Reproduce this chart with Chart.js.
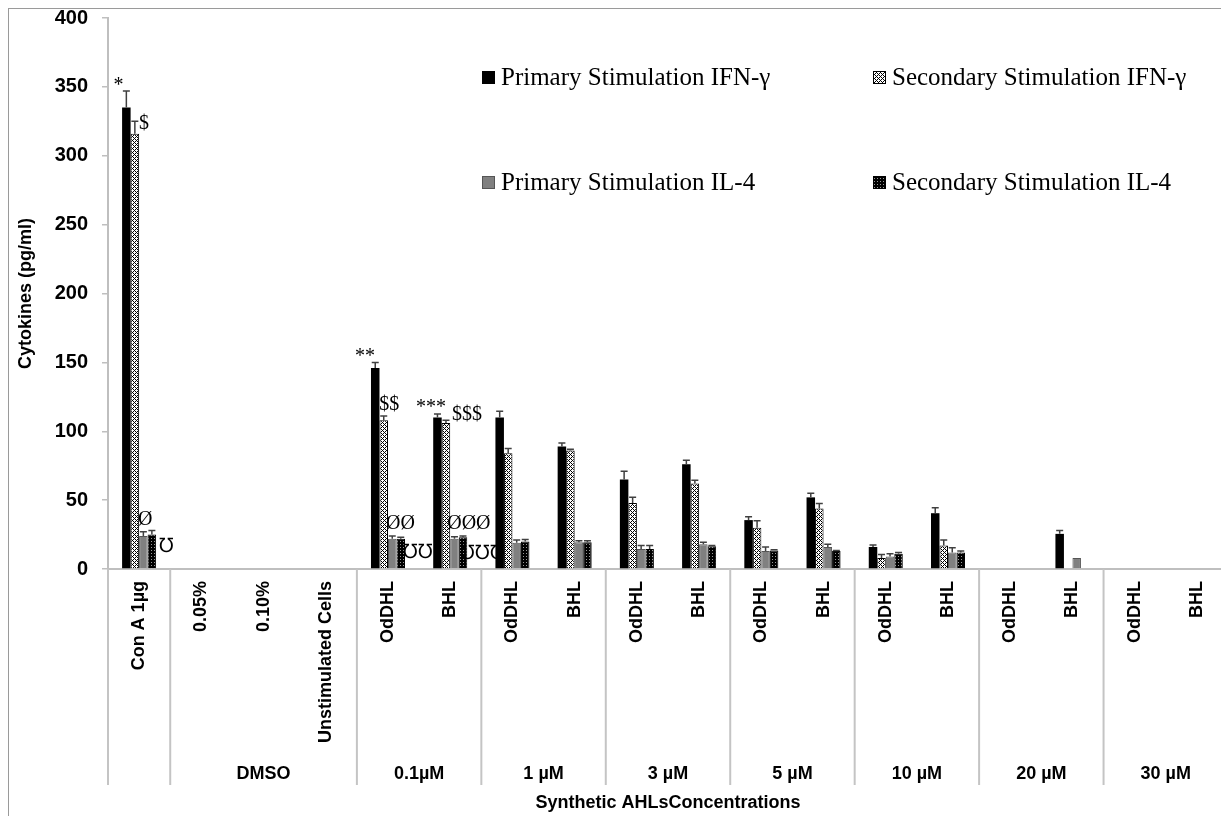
<!DOCTYPE html>
<html><head><meta charset="utf-8">
<script src="https://cdn.jsdelivr.net/npm/chart.js@4/dist/chart.umd.min.js"></script>
<style>
html,body{margin:0;padding:0;background:#fff;overflow:hidden;}
#wrap{position:relative;width:1228px;height:816px;}
#frame{position:absolute;left:8px;top:8px;width:1300px;height:900px;border-left:1px solid #9a9a9a;border-top:1px solid #9a9a9a;pointer-events:none;}
</style></head><body>
<div id="wrap"><canvas id="c" width="1228" height="816"></canvas><div id="frame"></div></div>
<script>
// ---------- data ----------
const categories = ['Con A 1µg','0.05%','0.10%','Unstimulated Cells',
  'OdDHL','BHL','OdDHL','BHL','OdDHL','BHL','OdDHL','BHL','OdDHL','BHL','OdDHL','BHL','OdDHL','BHL'];
const groupNames = ['', 'DMSO', '0.1µM', '1 µM', '3 µM', '5 µM', '10 µM', '20 µM', '30 µM'];
const groupSizes = [1, 3, 2, 2, 2, 2, 2, 2, 2];
const yTicks = [0, 50, 100, 150, 200, 250, 300, 350, 400];
const seriesNames = ['Primary Stimulation IFN-γ','Secondary Stimulation IFN-γ','Primary Stimulation IL-4','Secondary Stimulation IL-4'];

const primaryIFN   = [335, null, null, null, 146, 110, 110, 89, 65, 76, 35.5, 52, 16, 40.5, null, 25.5, null, null];
const secondaryIFN = [316, null, null, null, 108, 106, 84, 86, 48, 62, 30, 44, 8, 17, null, null, null, null];
const primaryIL4   = [24, null, null, null, 22, 22, 19, 19.5, 14.5, 18, 13, 16, 9, 12, null, 8, null, null];
const secondaryIL4 = [25, null, null, null, 22, 23, 20, 19.5, 14.5, 16.5, 13.5, 13, 11, 12, null, null, null, null];

const errPrimaryIFN   = [12, null, null, null, 4, 2.5, 4.5, 2.5, 6, 3, 2.5, 3, 1.5, 4, null, 2.5, null, null];
const errSecondaryIFN = [9, null, null, null, 3, 2, 3.5, 1, 4, 2.5, 5, 3.5, 2.5, 4, null, null, null, null];
const errPrimaryIL4   = [3, null, null, null, 2, 1.5, 2, 1, 2.5, 1.5, 3, 2, 2, 3.5, null, null, null, null];
const errSecondaryIL4 = [3, null, null, null, 1, 1, 1.5, 1, 2.5, 0.5, 0.5, 0.5, 1, 1, null, null, null, null];

// significance marks (category position, value position)
const annText = ['*', '$', 'Ø', '℧', '**', '$$', 'ØØ', '℧℧', '***', '$$$', 'ØØØ', '℧℧℧'];
const annX    = [-0.33, 0.08, 0.10, 0.42, 3.63, 4.02, 4.20, 4.46, 4.69, 5.27, 5.30, 5.51];
const annY    = [351, 323, 36, 16, 154, 119, 33, 11.6, 117, 112, 33, 11.3];

// ---------- patterns ----------
function makePattern(size, bg, fg, cells) {
  const c = document.createElement('canvas');
  c.width = size; c.height = size;
  const g = c.getContext('2d');
  g.fillStyle = bg; g.fillRect(0, 0, size, size);
  g.fillStyle = fg;
  cells.forEach(p => g.fillRect(p[0], p[1], 1, 1));
  return g.createPattern(c, 'repeat');
}
const checkPattern = makePattern(4, '#ffffff', '#000000', [[0,0],[1,1],[2,2],[3,3],[1,3],[3,1]]);
const dotPattern = makePattern(3, '#000000', '#9a9a9a', [[1,1]]);

const SANS = "'Liberation Sans', Arial, sans-serif";
const SERIF = "'Liberation Serif', 'Times New Roman', serif";

// ---------- plugins ----------
const errorBars = {
  id: 'errorBars',
  afterDatasetsDraw(chart) {
    const ctx = chart.ctx, ys = chart.scales.y;
    chart.data.datasets.forEach((ds, i) => {
      const meta = chart.getDatasetMeta(i);
      meta.data.forEach((el, j) => {
        const v = ds.data[j], e = ds.errors[j];
        if (v == null || e == null || e <= 0) return;
        const yTop = ys.getPixelForValue(v + e);
        ctx.save();
        ctx.strokeStyle = '#404040';
        ctx.lineWidth = 1.5;
        ctx.beginPath();
        ctx.moveTo(el.x, el.y);
        ctx.lineTo(el.x, yTop);
        ctx.moveTo(el.x - 3.5, yTop);
        ctx.lineTo(el.x + 3.5, yTop);
        ctx.stroke();
        ctx.restore();
      });
    });
  }
};

const groupAxis = {
  id: 'groupAxis',
  afterDraw(chart) {
    const ctx = chart.ctx, xs = chart.scales.x, area = chart.chartArea;
    ctx.save();
    ctx.strokeStyle = '#c4c4c4';
    ctx.lineWidth = 2;
    let start = 0;
    const bounds = [-0.5];
    groupSizes.forEach(n => { start += n; bounds.push(start - 0.5); });
    bounds.forEach(b => {
      const px = xs.getPixelForValue(b);
      ctx.beginPath();
      ctx.moveTo(px, area.bottom);
      ctx.lineTo(px, 785);
      ctx.stroke();
    });
    ctx.fillStyle = '#000';
    ctx.font = 'bold 18px ' + SANS;
    ctx.textAlign = 'center';
    ctx.textBaseline = 'middle';
    groupNames.forEach((name, k) => {
      const c = (bounds[k] + bounds[k + 1]) / 2;
      ctx.fillText(name, xs.getPixelForValue(c), 774);
    });
    ctx.restore();
  }
};

const marks = {
  id: 'marks',
  afterDraw(chart) {
    const ctx = chart.ctx, xs = chart.scales.x, ys = chart.scales.y;
    ctx.save();
    ctx.fillStyle = '#000';
    ctx.font = '20px ' + SERIF;
    ctx.textAlign = 'center';
    ctx.textBaseline = 'middle';
    annText.forEach((t, k) => {
      ctx.fillText(t, xs.getPixelForValue(annX[k]), ys.getPixelForValue(annY[k]));
    });
    ctx.restore();
  }
};

const legendBox = {
  id: 'legendBox',
  afterDraw(chart) {
    const ctx = chart.ctx;
    const spots = [[482, 78], [873, 78], [482, 183], [873, 183]];
    ctx.save();
    ctx.font = '25px ' + SERIF;
    ctx.textBaseline = 'middle';
    ctx.textAlign = 'left';
    chart.data.datasets.forEach((ds, i) => {
      const [x, y] = spots[i];
      ctx.fillStyle = ds.backgroundColor;
      ctx.fillRect(x, y - 7, 13, 13);
      if (ds.borderWidth) {
        ctx.strokeStyle = ds.borderColor; ctx.lineWidth = 1;
        ctx.strokeRect(x + 0.5, y - 6.5, 12, 12);
      }
      ctx.fillStyle = '#000';
      ctx.fillText(ds.label, x + 19, y);
    });
    ctx.restore();
  }
};

// ---------- chart ----------
const values = [primaryIFN, secondaryIFN, primaryIL4, secondaryIL4];
const errs = [errPrimaryIFN, errSecondaryIFN, errPrimaryIL4, errSecondaryIL4];
const fills = ['#000000', checkPattern, '#808080', dotPattern];
const borders = ['#000000', '#000000', '#555555', '#000000'];
const bws = [0, 1, 1, 1];

new Chart(document.getElementById('c'), {
  type: 'bar',
  data: {
    labels: categories,
    datasets: values.map((v, i) => ({
      label: seriesNames[i],
      data: v,
      errors: errs[i],
      backgroundColor: fills[i],
      borderColor: borders[i],
      borderWidth: bws[i],
      categoryPercentage: 0.547,
      barPercentage: 1.0
    }))
  },
  options: {
    responsive: false,
    animation: false,
    layout: { padding: { top: 18, right: 0, bottom: 0, left: 0 } },
    plugins: { legend: { display: false }, tooltip: { enabled: false } },
    scales: {
      x: {
        type: 'category',
        offset: true,
        grid: { display: false, drawTicks: false },
        border: { display: true, color: '#bfbfbf', width: 2 },
        ticks: {
          autoSkip: false, maxRotation: 90, minRotation: 90, padding: 12,
          color: '#000', font: { family: SANS, size: 18, weight: 'bold' }
        },
        title: {
          display: true, text: 'Synthetic AHLsConcentrations', color: '#000',
          font: { family: SANS, size: 18, weight: 'bold' }, padding: { top: 0, bottom: 2 }
        },
        afterFit(s) { s.height = 247; s.paddingLeft = 0; s.paddingRight = 0; }
      },
      y: {
        min: 0, max: 400,
        afterBuildTicks(s) { s.ticks = yTicks.map(v => ({ value: v })); },
        grid: { display: true, drawOnChartArea: false, drawTicks: true, tickLength: 6, color: '#bfbfbf', lineWidth: 1.5 },
        border: { display: true, color: '#bfbfbf', width: 2 },
        ticks: { padding: 14, color: '#000', font: { family: SANS, size: 20, weight: 'bold' } },
        title: {
          display: true, text: 'Cytokines (pg/ml)', color: '#000',
          font: { family: SANS, size: 18, weight: 'bold' }, padding: { top: 15, bottom: 0 }
        },
        afterFit(s) { s.width = 108; s.paddingTop = 0; s.paddingBottom = 0; }
      }
    }
  },
  plugins: [errorBars, groupAxis, marks, legendBox]
});
</script>
</body></html>
